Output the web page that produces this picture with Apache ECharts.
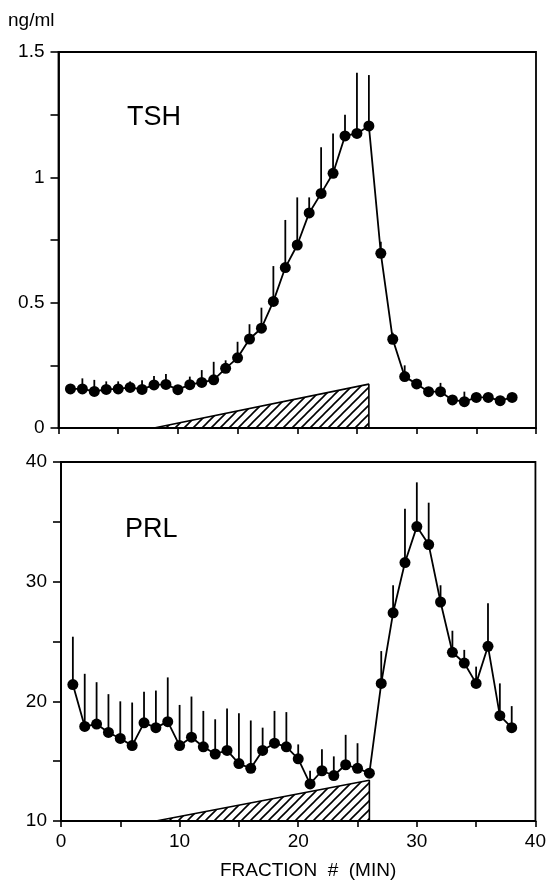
<!DOCTYPE html>
<html>
<head>
<meta charset="utf-8">
<title>TSH / PRL</title>
<script src="https://cdn.jsdelivr.net/npm/echarts@6/dist/echarts.min.js"></script>
<style>
  html, body { margin: 0; padding: 0; background: #fff; }
  #chart { width: 549px; height: 886px; }
</style>
</head>
<body>
<div id="chart"></div>
<script>
// fraction numbers (x)
const fraction = [1, 2, 3, 4, 5, 6, 7, 8, 9, 10, 11, 12, 13, 14, 15, 16, 17, 18, 19,
  20, 21, 22, 23, 24, 25, 26, 27, 28, 29, 30, 31, 32, 33, 34, 35, 36, 37, 38]

// TSH mean and upper end of error bar (ng/ml)
const tshMean = [0.156, 0.156, 0.146, 0.154, 0.156, 0.162, 0.154, 0.172, 0.174, 0.153,
  0.173, 0.182, 0.192, 0.238, 0.28, 0.355, 0.398, 0.505, 0.64, 0.73, 0.858, 0.936,
  1.016, 1.165, 1.175, 1.205, 0.697, 0.354, 0.205, 0.176, 0.145, 0.145, 0.112,
  0.105, 0.122, 0.122, 0.109, 0.122]
const tshTop = [0.172, 0.198, 0.192, 0.186, 0.186, 0.186, 0.19, 0.207, 0.215, 0.16,
  0.205, 0.231, 0.264, 0.27, 0.344, 0.414, 0.48, 0.646, 0.83, 0.92, 0.92, 1.12,
  1.175, 1.25, 1.417, 1.408, 0.743, 0.38, 0.25, 0.18, 0.15, 0.18, 0.12,
  0.145, 0.13, 0.13, 0.115, 0.13]

// PRL mean and upper end of error bar (ng/ml)
const prlMean = [21.4, 17.9, 18.1, 17.4, 16.9, 16.3, 18.2, 17.8, 18.3, 16.3, 17.0,
  16.2, 15.6, 15.9, 14.8, 14.4, 15.9, 16.5, 16.2, 15.2, 13.1, 14.2, 13.8, 14.7,
  14.4, 14.0, 21.5, 27.4, 31.6, 34.6, 33.1, 28.3, 24.1, 23.2, 21.5, 24.6, 18.8, 17.8]
const prlTop = [25.4, 22.3, 21.6, 20.6, 20.0, 19.9, 20.8, 20.9, 22.0, 19.7, 20.4,
  19.2, 18.5, 19.4, 19.0, 18.4, 17.8, 19.2, 19.1, 16.4, 14.2, 16.0, 15.4, 17.2,
  16.5, 14.0, 24.2, 29.7, 36.1, 38.3, 36.6, 29.7, 25.9, 24.3, 22.9, 28.2, 21.5, 19.6]

// infusion ramp (hatched wedge)
const rampX = [8, 26, 26]
const tshRamp = [0, 0.175, 0]
const prlRamp = [10, 13.4, 10]

const xTicks = [0, 10, 20, 30, 40]

const font = 'Liberation Sans, Arial, sans-serif'

// diagonal hatch pattern
const hatch = document.createElement('canvas')
hatch.width = 9
hatch.height = 9
const hctx = hatch.getContext('2d')
hctx.strokeStyle = '#000'
hctx.lineWidth = 1.6
hctx.beginPath()
hctx.moveTo(0, 9); hctx.lineTo(9, 0)
hctx.moveTo(-1, 1); hctx.lineTo(1, -1)
hctx.moveTo(8, 10); hctx.lineTo(10, 8)
hctx.stroke()

const pairs = (xs, ys) => xs.map((x, i) => [x, ys[i]])

const errorSeries = (axisIdx, top) => ({
  type: 'custom',
  xAxisIndex: axisIdx,
  yAxisIndex: axisIdx,
  z: 3,
  silent: true,
  data: fraction.map((x, i) => [x, top[i], axisIdx === 0 ? tshMean[i] : prlMean[i]]),
  renderItem: (params, api) => {
    const p0 = api.coord([api.value(0), api.value(2)])
    const p1 = api.coord([api.value(0), api.value(1)])
    return {
      type: 'line',
      shape: { x1: p0[0], y1: p0[1], x2: p1[0], y2: p1[1] },
      style: { stroke: '#000', lineWidth: 1.8 }
    }
  }
})

const rampSeries = (axisIdx, ys) => ({
  type: 'line',
  xAxisIndex: axisIdx,
  yAxisIndex: axisIdx,
  z: 1,
  symbol: 'none',
  silent: true,
  data: pairs(rampX, ys),
  lineStyle: { color: '#000', width: 1.6 },
  areaStyle: { origin: 'start', opacity: 1, color: { image: hatch, repeat: 'repeat' } }
})

const meanSeries = (axisIdx, ys) => ({
  type: 'line',
  xAxisIndex: axisIdx,
  yAxisIndex: axisIdx,
  z: 4,
  symbol: 'circle',
  symbolSize: 11,
  data: pairs(fraction, ys),
  lineStyle: { color: '#000', width: 1.8 },
  itemStyle: { color: '#000' }
})

const xAxisBase = (gridIndex, showLabel) => ({
  type: 'value',
  gridIndex,
  min: 0,
  max: 40,
  interval: 10,
  axisLine: { lineStyle: { color: '#000', width: 1.8 } },
  axisTick: { length: 6, lineStyle: { color: '#000', width: 1.6 } },
  minorTick: { show: true, splitNumber: 2, length: 6, lineStyle: { color: '#000', width: 1.6 } },
  splitLine: { show: false },
  axisLabel: {
    show: showLabel,
    color: '#000',
    fontFamily: font,
    fontSize: 19,
    margin: 11,
    formatter: v => xTicks.includes(v) ? String(v) : ''
  }
})

const yAxisBase = (gridIndex, min, max, interval) => ({
  type: 'value',
  gridIndex,
  min,
  max,
  interval,
  axisLine: { lineStyle: { color: '#000', width: 1.8 } },
  axisTick: { length: 8, lineStyle: { color: '#000', width: 1.6 } },
  minorTick: { show: true, splitNumber: 2, length: 8, lineStyle: { color: '#000', width: 1.6 } },
  splitLine: { show: false },
  axisLabel: { color: '#000', fontFamily: font, fontSize: 19, margin: 14 }
})

const chart = echarts.init(document.getElementById('chart'))

chart.setOption({
  animation: false,
  backgroundColor: '#fff',
  grid: [
    { left: 58.5, right: 13, top: 52, height: 376, show: true, borderColor: '#000', borderWidth: 1.8 },
    { left: 61, right: 12.5, top: 462, height: 359, show: true, borderColor: '#000', borderWidth: 1.8 }
  ],
  xAxis: [xAxisBase(0, false), xAxisBase(1, true)],
  yAxis: [yAxisBase(0, 0, 1.5, 0.5), yAxisBase(1, 10, 40, 10)],
  graphic: [
    { type: 'text', left: 8, top: 11, style: { text: 'ng/ml', font: '19px ' + font, fill: '#000' } },
    { type: 'text', left: 127, top: 104, style: { text: 'TSH', font: '27px ' + font, fill: '#000' } },
    { type: 'text', left: 125, top: 516, style: { text: 'PRL', font: '27px ' + font, fill: '#000' } },
    { type: 'text', left: 220, top: 861, style: { text: 'FRACTION  #  (MIN)', font: '19px ' + font, fill: '#000' } }
  ],
  series: [
    rampSeries(0, tshRamp),
    errorSeries(0, tshTop),
    meanSeries(0, tshMean),
    rampSeries(1, prlRamp),
    errorSeries(1, prlTop),
    meanSeries(1, prlMean)
  ]
})
</script>
</body>
</html>
